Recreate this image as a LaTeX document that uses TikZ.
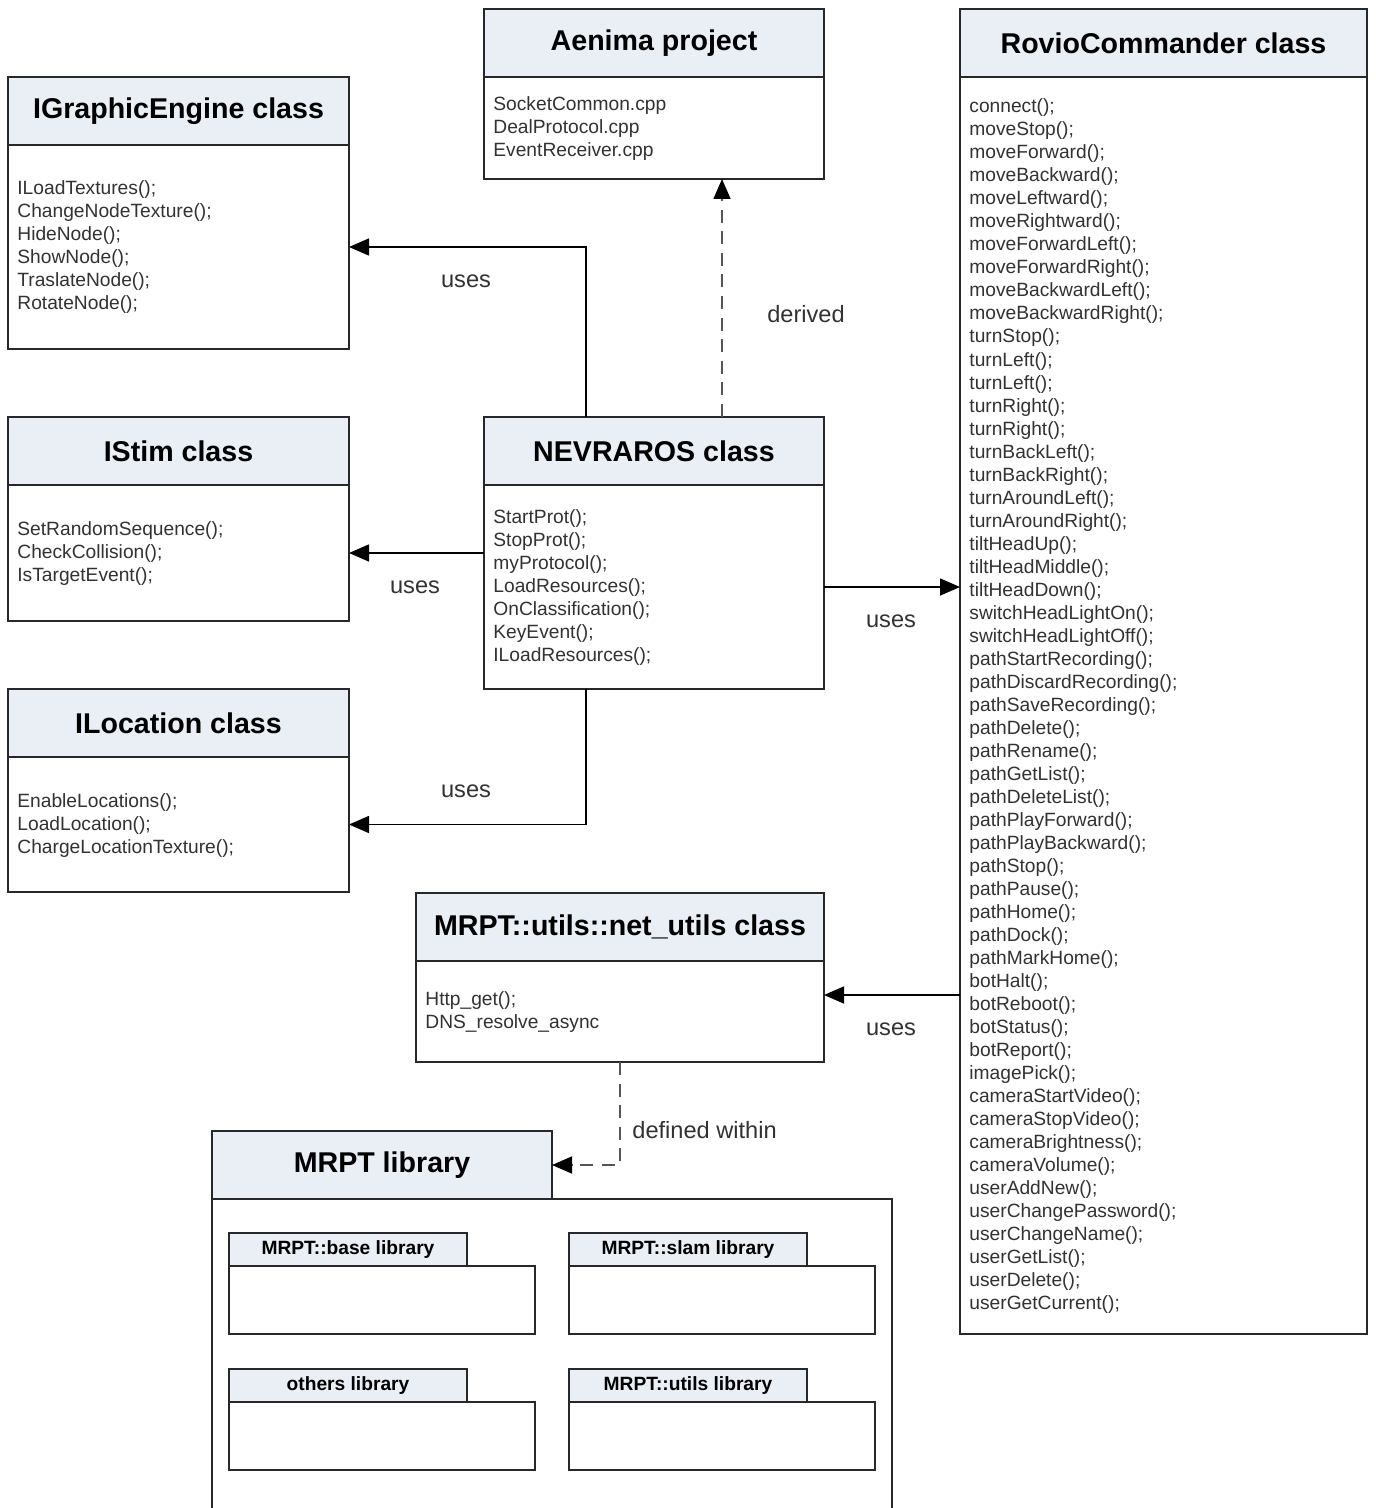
\documentclass[tikz,border=0pt]{standalone}
\usepackage{fontspec}
\setmainfont{Liberation Sans}
\usetikzlibrary{
  arrows.meta,
  positioning
}
\definecolor{headfill}{RGB}{234,238,245}
\definecolor{linegray}{RGB}{40,40,40}
\definecolor{textgray}{RGB}{50,50,50}
\definecolor{dashgray}{RGB}{85,85,85}
\tikzset{
  boxline/.style={draw=linegray,line width=0.8pt,inner sep=0pt,outer sep=0pt,anchor=north west},
  headbox/.style={boxline,fill=headfill,text=black,font=\bfseries\fontsize{14.3}{17}\selectfont},
  bodybox/.style={boxline,fill=white},
  tabbox/.style={boxline,fill=headfill,text=black,font=\bfseries\fontsize{9.6}{11}\selectfont},
  method/.style={anchor=base west,inner sep=0pt,text=textgray,font=\fontsize{9.6}{11.5}\selectfont},
  linklabel/.style={inner sep=0pt,text=textgray,font=\fontsize{11.8}{14}\selectfont},
  uses/.style={draw=black,line width=0.8pt,-{Triangle[length=10pt,width=8.5pt]}},
  dashlink/.style={uses,draw=dashgray,dash pattern=on 6.5pt off 4.3pt,
    -{Triangle[length=10pt,width=8.5pt,color=black]}}
}
% class box: name, left, top, width, head height, body height, title
\newcommand{\umlclass}[7]{%
  \node[headbox,minimum width=#4*0.5pt,minimum height=#5*0.5pt] (#1-head) at (#2,#3) {#7};%
  \node[bodybox,minimum width=#4*0.5pt,minimum height=#6*0.5pt] (#1) at (#1-head.south west) {};%
}
% method lines: name, left, first baseline, list
\newcommand{\methods}[4]{%
  \foreach \m [count=\i from 0] in {#4}{%
    \node[method] (#1-m\i) at (#2,#3+23*\i) {\m};}%
}
% package: name, left, top, label
\newcommand{\umlpkg}[4]{%
  \node[tabbox,minimum width=119pt,minimum height=16.5pt] (#1-tab) at (#2,#3) {#4};%
  \node[bodybox,minimum width=153pt,minimum height=34pt] (#1) at (#1-tab.south west) {};%
}

\begin{document}
\begin{tikzpicture}[x=0.5pt,y=-0.5pt]
  \useasboundingbox (0,0) rectangle (1375,1508);
  \fill[white] (0,0) rectangle (1375,1508);
  \clip (0,0) rectangle (1375,1508);

  % classes
  \umlclass{ige}{8}{77}{341}{68}{204}{IGraphicEngine class}
  \methods{ige}{17}{195}{ILoadTextures();,ChangeNodeTexture();,HideNode();,ShowNode();,TraslateNode();,RotateNode();}

  \umlclass{istim}{8}{417}{341}{68}{136}{IStim class}
  \methods{istim}{17}{535}{SetRandomSequence();,CheckCollision();,IsTargetEvent();}

  \umlclass{iloc}{8}{689}{341}{68}{135}{ILocation class}
  \methods{iloc}{17}{807}{EnableLocations();,LoadLocation();,ChargeLocationTexture();}

  \umlclass{aenima}{484}{9}{340}{68}{102}{Aenima project}
  \methods{aenima}{493}{111}{SocketCommon.cpp,DealProtocol.cpp,EventReceiver.cpp}

  \umlclass{nevraros}{484}{417}{340}{68}{204}{NEVRAROS class}
  \methods{nevraros}{493}{523}{StartProt();,StopProt();,myProtocol();,LoadResources();,OnClassification();,KeyEvent();,ILoadResources();}

  \umlclass{rovio}{960}{9}{407}{68}{1257}{RovioCommander class}
  \methods{rovio}{969}{113}{connect();,moveStop();,moveForward();,moveBackward();,moveLeftward();,moveRightward();,moveForwardLeft();,moveForwardRight();,moveBackwardLeft();,moveBackwardRight();,turnStop();,turnLeft();,turnLeft();,turnRight();,turnRight();,turnBackLeft();,turnBackRight();,turnAroundLeft();,turnAroundRight();,tiltHeadUp();,tiltHeadMiddle();,tiltHeadDown();,switchHeadLightOn();,switchHeadLightOff();,pathStartRecording();,pathDiscardRecording();,pathSaveRecording();,pathDelete();,pathRename();,pathGetList();,pathDeleteList();,pathPlayForward();,pathPlayBackward();,pathStop();,pathPause();,pathHome();,pathDock();,pathMarkHome();,botHalt();,botReboot();,botStatus();,botReport();,imagePick();,cameraStartVideo();,cameraStopVideo();,cameraBrightness();,cameraVolume();,userAddNew();,userChangePassword();,userChangeName();,userGetList();,userDelete();,userGetCurrent();}

  \umlclass{netutils}{416}{893}{408}{68}{101}{MRPT::utils::net\_utils class}
  \methods{netutils}{425}{1005}{Http\_get();,DNS\_resolve\_async}

  % library
  \node[headbox,minimum width=170pt,minimum height=34pt] (mrpt-head) at (212,1131) {MRPT library};
  \node[bodybox,minimum width=340pt,minimum height=200pt] (mrpt) at (mrpt-head.south west) {};
  \umlpkg{base}{229}{1233}{MRPT::base library}
  \umlpkg{slam}{569}{1233}{MRPT::slam library}
  \umlpkg{others}{229}{1369}{others library}
  \umlpkg{utils}{569}{1369}{MRPT::utils library}

  % links
  \draw[uses] ([xshift=51pt]nevraros-head.north west) |- (ige.east);
  \draw[uses] (istim.east -| nevraros.west) -- (istim.east);
  \draw[uses] ([xshift=51pt]nevraros.south west) |- (iloc.east);
  \draw[dashlink] ([xshift=119pt]nevraros-head.north west) -- ([xshift=119pt]aenima.south west);
  \draw[uses] (nevraros.east) -- (nevraros.east -| rovio.west);
  \draw[uses] ([yshift=8.25pt]netutils.east -| rovio.west) -- ([yshift=8.25pt]netutils.east);
  \draw[dashlink] (netutils.south) |- (mrpt-head.east);

  \node[linklabel] (lbl-ige) at (466,281) {uses};
  \node[linklabel] (lbl-istim) at (415,587) {uses};
  \node[linklabel] (lbl-iloc) at (466,791) {uses};
  \node[linklabel] (lbl-aenima) at (806,314) {derived};
  \node[linklabel] (lbl-rovio) at (891,621) {uses};
  \node[linklabel] (lbl-net) at (891,1029) {uses};
  \node[linklabel,anchor=west] (lbl-mrpt) at (632,1130) {defined within};
\end{tikzpicture}
\end{document}
